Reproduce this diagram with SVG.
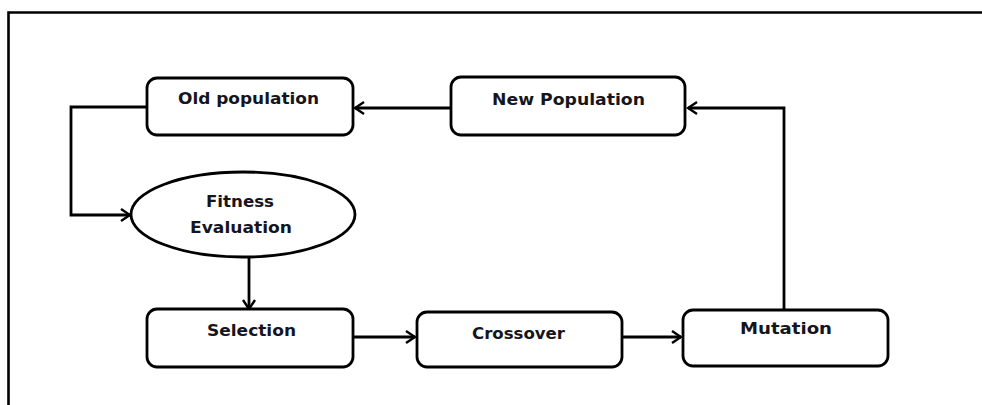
<svg xmlns="http://www.w3.org/2000/svg" width="982" height="405" viewBox="0 0 982 405">
<defs>
<style>
.box{fill:#fff;stroke:#000;stroke-width:2.8}
.lbl{font-family:"DejaVu Sans","Liberation Sans",sans-serif;font-weight:bold;font-size:15.5px;fill:#151520;text-anchor:middle}
.conn{fill:none;stroke:#000;stroke-width:2.8}
.frame{fill:none;stroke:#000;stroke-width:2.6}
</style>
<marker id="arr" markerUnits="userSpaceOnUse" markerWidth="14" markerHeight="14" viewBox="-12 -7 14 14" refX="0" refY="0" orient="auto">
<path d="M-9,-6 L0,0 L-9,6" fill="none" stroke="#000" stroke-width="2.4"/>
</marker>
</defs>
<rect width="982" height="405" fill="#fff"/>
<path class="frame" d="M8.5,405 V12.5 H982"/>
<g id="connectors">
<path class="conn" d="M451,108 H355" marker-end="url(#arr)"/>
<path class="conn" d="M784,310 V108 H688" marker-end="url(#arr)"/>
<path class="conn" d="M147,107 H71 V215 H130" marker-end="url(#arr)"/>
<path class="conn" d="M249,257 V309" marker-end="url(#arr)"/>
<path class="conn" d="M353,337 H415" marker-end="url(#arr)"/>
<path class="conn" d="M622,337 H681" marker-end="url(#arr)"/>
</g>
<g id="old-population">
<rect class="box" x="147" y="78" width="206" height="57" rx="10"/>
<text class="lbl" x="248.5" y="104" textLength="141" lengthAdjust="spacingAndGlyphs">Old population</text>
</g>
<g id="new-population">
<rect class="box" x="451" y="77" width="234" height="58" rx="10"/>
<text class="lbl" x="568.5" y="105" textLength="153" lengthAdjust="spacingAndGlyphs">New Population</text>
</g>
<g id="fitness-evaluation">
<ellipse class="box" cx="243" cy="214.5" rx="112" ry="42.5"/>
<text class="lbl" x="240" y="207" textLength="68" lengthAdjust="spacingAndGlyphs">Fitness</text>
<text class="lbl" x="241" y="233" textLength="102" lengthAdjust="spacingAndGlyphs">Evaluation</text>
</g>
<g id="selection">
<rect class="box" x="147" y="309" width="206" height="58" rx="10"/>
<text class="lbl" x="251.5" y="336" textLength="89" lengthAdjust="spacingAndGlyphs">Selection</text>
</g>
<g id="crossover">
<rect class="box" x="417" y="312" width="205" height="55" rx="10"/>
<text class="lbl" x="518.5" y="339" textLength="93" lengthAdjust="spacingAndGlyphs">Crossover</text>
</g>
<g id="mutation">
<rect class="box" x="683" y="310" width="205" height="56" rx="10"/>
<text class="lbl" x="786" y="334" textLength="92" lengthAdjust="spacingAndGlyphs">Mutation</text>
</g>
</svg>
